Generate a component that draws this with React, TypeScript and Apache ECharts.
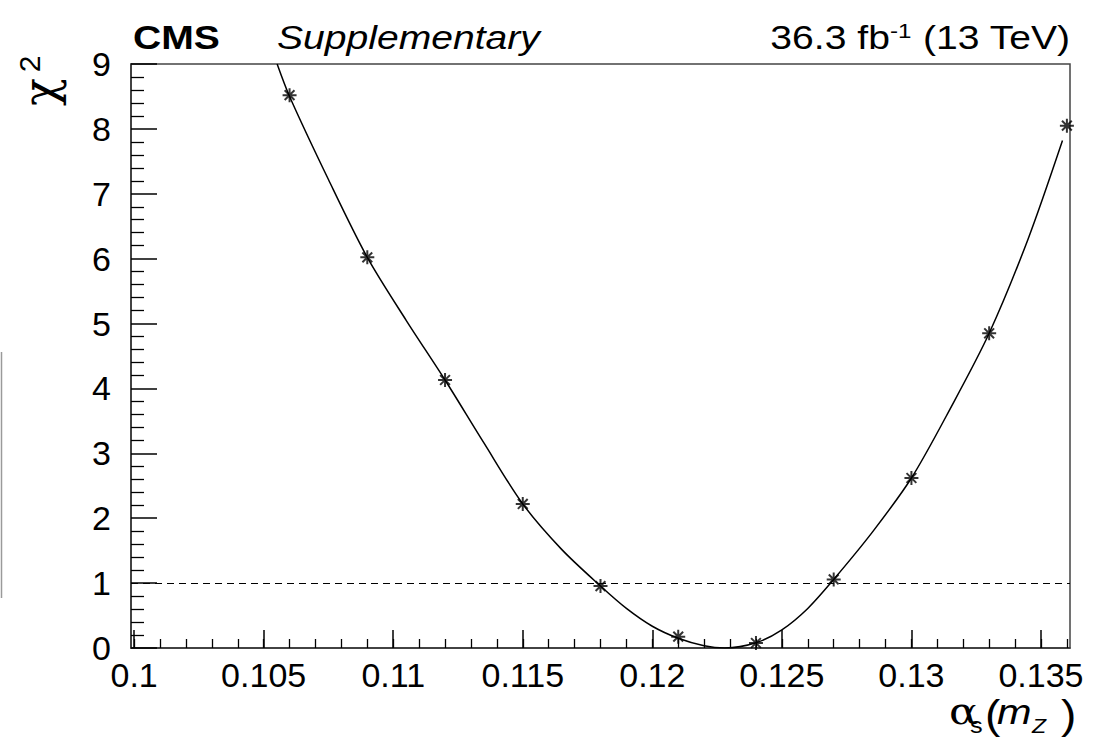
import React, { useEffect, useRef } from "react";
import * as echarts from "echarts";

// measured points (alpha_s(mZ), chi2)
const alphaS = [0.106, 0.109, 0.112, 0.115, 0.118, 0.121, 0.124, 0.127, 0.13, 0.133, 0.136];
const chi2 = [8.52, 6.02, 4.13, 2.22, 0.954, 0.175, 0.077, 1.057, 2.62, 4.85, 8.05];

// fitted curve
const fitAlpha = [0.10552, 0.106, 0.1075, 0.109, 0.1105, 0.112, 0.1135, 0.115, 0.1165, 0.118, 0.119, 0.12, 0.121, 0.122, 0.1228, 0.124, 0.125, 0.126, 0.127, 0.1285, 0.13, 0.1315, 0.133, 0.1345, 0.13583];
const fitChi2 = [9.0, 8.5, 7.22, 6.02, 5.05, 4.13, 3.16, 2.22, 1.52, 0.955, 0.61, 0.335, 0.15, 0.035, 0.0, 0.08, 0.28, 0.61, 1.057, 1.79, 2.62, 3.69, 4.85, 6.3, 7.82];

const xMajorTicks = [0.1, 0.105, 0.11, 0.115, 0.12, 0.125, 0.13, 0.135];
const xTickLabels = ["0.1", "0.105", "0.11", "0.115", "0.12", "0.125", "0.13", "0.135"];
const xMinorTicks = [
  0.1, 0.101, 0.102, 0.103, 0.104, 0.105, 0.106, 0.107, 0.108, 0.109,
  0.11, 0.111, 0.112, 0.113, 0.114, 0.115, 0.116, 0.117, 0.118, 0.119,
  0.12, 0.121, 0.122, 0.123, 0.124, 0.125, 0.126, 0.127, 0.128, 0.129,
  0.13, 0.131, 0.132, 0.133, 0.134, 0.135, 0.136,
];
const thresholdChi2 = 1;

const X_MIN = 0.09988;
const X_MAX = 0.13612;
const Y_MIN = 0;
const Y_MAX = 9;

const SANS = '"Liberation Sans", Arial, Helvetica, sans-serif';
const SERIF = '"DejaVu Serif", "Liberation Serif", serif';
const SX = 1.15;

function measure(text: string, font: string): number {
  const c = document.createElement("canvas").getContext("2d");
  if (!c) return 0;
  c.font = font;
  return c.measureText(text).width;
}

function txt(x: number, y: number, text: string, font: string, opts: any = {}) {
  const align = opts.align || "left";
  return {
    type: "text",
    x,
    y,
    scaleX: opts.sx ?? 1,
    rotation: opts.rot ?? 0,
    silent: true,
    style: {
      text,
      font,
      fill: "#000",
      align,
      textAlign: align,
      verticalAlign: "middle",
      textVerticalAlign: "middle",
    },
  };
}

const ASTERISK = "path://M6,0V12M0,6H12M1.8,1.8L10.2,10.2M10.2,1.8L1.8,10.2";

export default function App() {
  const ref = useRef<HTMLDivElement>(null);
  useEffect(() => {
    if (!ref.current) return;
    const chart = echarts.init(ref.current, undefined, { renderer: "svg" });

    const lumiFont = `34px ${SANS}`;
    const supFont = `21px ${SANS}`;
    const w3 = measure(" (13 TeV)", lumiFont) * SX;
    const w2 = measure("-1", supFont) * SX;
    const RIGHT = 1070;

    const graphic: any[] = [
      txt(133, 37, "CMS", `bold 34px ${SANS}`, { sx: SX }),
      txt(277, 37, "Supplementary", `italic 34px ${SANS}`, { sx: SX }),
      txt(RIGHT, 37, " (13 TeV)", lumiFont, { sx: SX, align: "right" }),
      txt(RIGHT - w3, 31, "-1", supFont, { sx: SX, align: "right" }),
      txt(RIGHT - w3 - w2, 37, "36.3 fb", lumiFont, { sx: SX, align: "right" }),
      // y title chi^2 (rotated)
      txt(40, 92, "\u03C7", `46px ${SERIF}`, { rot: Math.PI / 2, align: "center" }),
      txt(29, 64, "2", `30px ${SANS}`, { rot: Math.PI / 2, align: "center" }),
      // x title alpha_s(m_Z)
      txt(949, 711, "\u03B1", `38px ${SERIF}`, { sx: SX }),
      txt(970, 726, "s", `22px ${SANS}`, { sx: SX }),
      txt(985, 715, "(", `40px ${SANS}`, { sx: SX }),
      txt(997, 711.5, "m", `italic 36px ${SANS}`, { sx: SX }),
      txt(1032, 726, "Z", `italic 20px ${SANS}`, { sx: SX }),
      txt(1061, 715, ")", `40px ${SANS}`, { sx: SX }),
      // stray grey line at the left edge of the picture
      {
        type: "line",
        silent: true,
        shape: { x1: 1.5, y1: 352, x2: 1.5, y2: 598 },
        style: { stroke: "#9a9a9a", lineWidth: 1.5 },
      },
    ];

    const axisLineStyle = { color: "#333", width: 1.5 };

    chart.setOption({
      animation: false,
      backgroundColor: "#fff",
      grid: {
        left: 131,
        right: 39,
        top: 64,
        bottom: 92,
        show: true,
        borderColor: "#444",
        borderWidth: 1.5,
        backgroundColor: "transparent",
      },
      xAxis: [
        {
          type: "value",
          min: X_MIN,
          max: X_MAX,
          position: "bottom",
          axisLine: { show: true, onZero: false, lineStyle: axisLineStyle },
          axisTick: {
            show: true,
            inside: true,
            length: 18,
            customValues: xMajorTicks,
            lineStyle: { color: "#000", width: 1.5 },
          },
          axisLabel: {
            show: true,
            customValues: xMajorTicks,
            margin: 10,
            color: "#000",
            fontSize: 34,
            fontFamily: SANS,
            formatter: (v: number) => {
              const i = xMajorTicks.findIndex((t) => Math.abs(t - v) < 1e-7);
              return i >= 0 ? xTickLabels[i] : "";
            },
          },
          splitLine: { show: false },
        },
        {
          type: "value",
          min: X_MIN,
          max: X_MAX,
          position: "bottom",
          axisLine: { show: false },
          axisTick: {
            show: true,
            inside: true,
            length: 9,
            customValues: xMinorTicks,
            lineStyle: { color: "#000", width: 1.3 },
          },
          axisLabel: { show: false },
          splitLine: { show: false },
        },
      ],
      yAxis: {
        type: "value",
        min: Y_MIN,
        max: Y_MAX,
        interval: 1,
        axisLine: { show: true, onZero: false, lineStyle: axisLineStyle },
        axisTick: { show: true, inside: true, length: 26, lineStyle: { color: "#000", width: 1.5 } },
        minorTick: { show: true, splitNumber: 5, length: 13, lineStyle: { color: "#000", width: 1.3 } },
        axisLabel: { color: "#000", fontSize: 34, fontFamily: SANS, margin: 20 },
        splitLine: { show: false },
        minorSplitLine: { show: false },
      },
      series: [
        {
          type: "line",
          xAxisIndex: 0,
          data: fitAlpha.map((x, i) => [x, fitChi2[i]]),
          smooth: 0.3,
          showSymbol: false,
          symbol: "none",
          clip: true,
          lineStyle: { color: "#000", width: 1.5 },
          markLine: {
            silent: true,
            symbol: "none",
            label: { show: false },
            lineStyle: { color: "#000", width: 1.2, type: [7, 5] },
            data: [{ yAxis: thresholdChi2 }],
          },
          z: 3,
        },
        {
          type: "scatter",
          xAxisIndex: 0,
          data: alphaS.map((x, i) => [x, chi2[i]]),
          symbol: ASTERISK,
          symbolSize: 14,
          itemStyle: { color: "transparent", borderColor: "#000", borderWidth: 2 },
          clip: false,
          z: 4,
        },
      ],
      graphic,
    });
    return () => chart.dispose();
  }, []);

  return (
    <div
      ref={ref}
      style={{ position: "absolute", left: 0, top: 0, width: 1109, height: 740, background: "#fff" }}
    />
  );
}
